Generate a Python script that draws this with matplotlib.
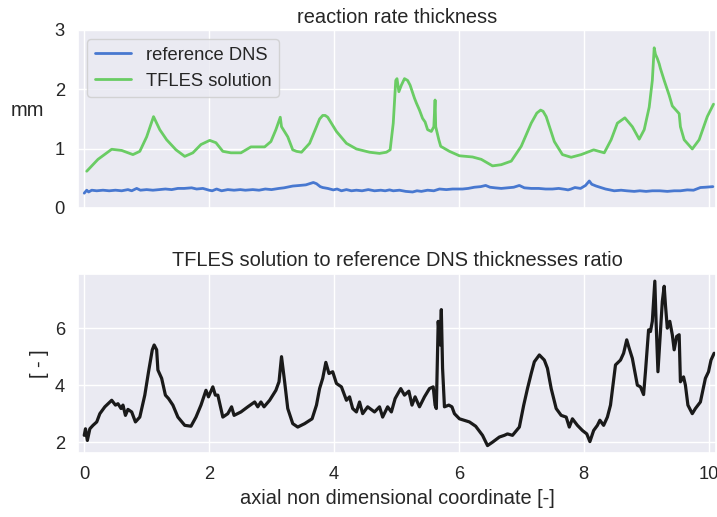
import matplotlib
matplotlib.use("Agg")
import matplotlib.pyplot as plt
import seaborn as sns

# ---- data ----
x_dns = [0.00, 0.04, 0.07, 0.12, 0.2, 0.3, 0.4, 0.5, 0.6, 0.7, 0.76, 0.84, 0.9, 1.0, 1.1, 1.2, 1.3, 1.4,
         1.5, 1.6, 1.72, 1.8, 1.9, 2.0, 2.05, 2.12, 2.2, 2.3, 2.4, 2.5, 2.58, 2.7, 2.8, 2.9, 3.0, 3.12,
         3.2, 3.34, 3.45, 3.55, 3.67, 3.72, 3.78, 3.82, 3.9, 3.99, 4.05, 4.12, 4.2, 4.28, 4.36, 4.45,
         4.55, 4.65, 4.75, 4.82, 4.89, 4.95, 5.05, 5.15, 5.26, 5.33, 5.4, 5.5, 5.6, 5.69, 5.8, 5.9,
         6.06, 6.15, 6.25, 6.35, 6.43, 6.5, 6.58, 6.68, 6.78, 6.88, 6.97, 7.05, 7.16, 7.28, 7.39, 7.5,
         7.6, 7.7, 7.75, 7.8, 7.86, 7.95, 8.03, 8.09, 8.13, 8.2, 8.26, 8.35, 8.49, 8.6, 8.69, 8.81,
         8.9, 9.0, 9.1, 9.22, 9.34, 9.45, 9.55, 9.66, 9.76, 9.87, 9.95, 10.07]
y_dns = [0.25, 0.30, 0.27, 0.30, 0.29, 0.30, 0.29, 0.30, 0.29, 0.31, 0.29, 0.33, 0.30, 0.31, 0.30, 0.31, 0.32, 0.31,
         0.33, 0.33, 0.34, 0.32, 0.33, 0.30, 0.29, 0.32, 0.29, 0.31, 0.30, 0.31, 0.30, 0.31, 0.30, 0.32, 0.31, 0.33,
         0.34, 0.37, 0.38, 0.39, 0.43, 0.41, 0.36, 0.345, 0.33, 0.305, 0.32, 0.29, 0.31, 0.29, 0.30, 0.29,
         0.31, 0.29, 0.30, 0.29, 0.305, 0.29, 0.30, 0.28, 0.27, 0.29, 0.28, 0.30, 0.29, 0.32, 0.31, 0.32,
         0.32, 0.33, 0.35, 0.36, 0.38, 0.35, 0.34, 0.33, 0.34, 0.35, 0.38, 0.34, 0.33, 0.33, 0.32, 0.32,
         0.33, 0.315, 0.305, 0.32, 0.345, 0.33, 0.38, 0.455, 0.40, 0.37, 0.35, 0.32, 0.29, 0.30, 0.29, 0.28,
         0.29, 0.28, 0.29, 0.29, 0.28, 0.29, 0.29, 0.305, 0.30, 0.345, 0.35, 0.36]

x_tfles = [0.04, 0.22, 0.44, 0.6, 0.78, 0.89, 1.0, 1.11, 1.21, 1.32, 1.47, 1.61, 1.74, 1.87, 2.01, 2.11,
           2.22, 2.35, 2.51, 2.67, 2.89, 2.99, 3.07, 3.14, 3.16, 3.26, 3.34, 3.40, 3.48, 3.61, 3.72, 3.77,
           3.82, 3.86, 3.90, 4.04, 4.20, 4.36, 4.57, 4.73, 4.84, 4.90, 4.95, 4.99, 5.01, 5.04, 5.08, 5.13,
           5.18, 5.22, 5.29, 5.32, 5.37, 5.42, 5.46, 5.50, 5.56, 5.60, 5.62, 5.63, 5.68, 5.71, 5.85, 6.01,
           6.22, 6.36, 6.54, 6.68, 6.84, 7.00, 7.16, 7.25, 7.31, 7.35, 7.40, 7.53, 7.66, 7.80, 7.96, 8.16,
           8.33, 8.44, 8.54, 8.66, 8.78, 8.89, 8.97, 9.05, 9.10, 9.13, 9.15, 9.18, 9.21, 9.23, 9.29, 9.37,
           9.42, 9.53, 9.55, 9.61, 9.74, 9.85, 9.98, 10.08]
y_tfles = [0.62, 0.82, 0.99, 0.97, 0.90, 0.955, 1.2, 1.54, 1.32, 1.15, 0.98, 0.87, 0.93, 1.07, 1.14, 1.10,
           0.955, 0.93, 0.93, 1.03, 1.03, 1.12, 1.32, 1.53, 1.37, 1.2, 0.98, 0.955, 0.94, 1.09, 1.37, 1.50,
           1.56, 1.56, 1.53, 1.29, 1.09, 0.995, 0.94, 0.92, 0.94, 0.98, 1.43, 2.15, 2.18, 1.96, 2.07, 2.18,
           2.15, 2.07, 1.85, 1.77, 1.65, 1.51, 1.45, 1.32, 1.29, 1.37, 1.82, 1.37, 1.15, 1.04, 0.955, 0.88,
           0.86, 0.82, 0.71, 0.73, 0.79, 1.04, 1.43, 1.60, 1.65, 1.63, 1.54, 1.12, 0.90, 0.855, 0.90, 0.98,
           0.93, 1.15, 1.43, 1.52, 1.37, 1.16, 1.32, 1.70, 2.15, 2.70, 2.59, 2.52, 2.43, 2.35, 2.15, 1.90,
           1.72, 1.59, 1.37, 1.15, 0.995, 1.15, 1.54, 1.75]

x_ratio = [0.0, 0.02, 0.05, 0.09, 0.14, 0.2, 0.25, 0.33, 0.44, 0.5,
           0.54, 0.59, 0.62, 0.66, 0.70, 0.76, 0.82, 0.89, 0.97, 1.03,
           1.09, 1.12, 1.16, 1.18, 1.24, 1.30, 1.35, 1.42, 1.50, 1.61,
           1.71, 1.79, 1.87, 1.95, 1.99, 2.06, 2.10, 2.14, 2.22, 2.30,
           2.36, 2.40, 2.51, 2.62, 2.73, 2.78, 2.83, 2.88, 2.97, 3.07,
           3.12, 3.16, 3.21, 3.26, 3.34, 3.42, 3.53, 3.65, 3.72, 3.77,
           3.82, 3.87, 3.92, 3.98, 4.04, 4.12, 4.20, 4.25, 4.30, 4.36,
           4.41, 4.46, 4.54, 4.65, 4.73, 4.78, 4.86, 4.92, 4.98, 5.07,
           5.13, 5.20, 5.25, 5.30, 5.37, 5.45, 5.53, 5.59, 5.62, 5.64,
           5.67, 5.70, 5.72, 5.74, 5.77, 5.84, 5.89, 5.93, 6.01, 6.17,
           6.27, 6.38, 6.46, 6.54, 6.65, 6.73, 6.78, 6.86, 6.97, 7.04,
           7.10, 7.16, 7.21, 7.29, 7.37, 7.42, 7.48, 7.56, 7.64, 7.72,
           7.77, 7.82, 7.90, 7.98, 8.05, 8.10, 8.16, 8.22, 8.26, 8.32,
           8.38, 8.43, 8.51, 8.59, 8.64, 8.69, 8.73, 8.78, 8.86, 8.91,
           8.96, 8.99, 9.04, 9.07, 9.10, 9.14, 9.16, 9.19, 9.23, 9.26,
           9.29, 9.31, 9.34, 9.38, 9.42, 9.45, 9.49, 9.53, 9.55, 9.60,
           9.63, 9.67, 9.74, 9.79, 9.87, 9.95, 10.0, 10.04, 10.09]
y_ratio = [2.24, 2.47, 2.06, 2.47, 2.59, 2.71, 3.0, 3.24, 3.47, 3.30,
           3.35, 3.18, 3.30, 2.94, 3.15, 3.06, 2.71, 2.88, 3.65, 4.47,
           5.24, 5.41, 5.24, 4.53, 4.24, 3.65, 3.53, 3.30, 2.88, 2.59,
           2.56, 2.88, 3.30, 3.82, 3.59, 3.94, 3.65, 3.65, 2.88, 3.0,
           3.24, 2.94, 3.06, 3.24, 3.41, 3.24, 3.41, 3.24, 3.47, 3.82,
           4.12, 5.0, 4.12, 3.18, 2.65, 2.53, 2.65, 2.82, 3.30, 3.88,
           4.24, 4.80, 4.41, 4.47, 4.06, 3.94, 3.47, 3.59, 3.18, 3.06,
           3.41, 3.0, 3.24, 3.06, 3.24, 2.88, 3.24, 3.06, 3.53, 3.88,
           3.65, 3.79, 3.30, 3.59, 3.24, 3.59, 3.88, 3.94, 3.30, 3.18,
           6.24, 5.41, 6.65, 4.59, 3.24, 3.30, 3.24, 3.0, 2.82, 2.71,
           2.56, 2.24, 1.88, 2.0, 2.18, 2.24, 2.29, 2.24, 2.53, 3.30,
           3.88, 4.41, 4.82, 5.06, 4.88, 4.59, 3.88, 3.18, 2.94, 2.88,
           2.53, 2.82, 2.59, 2.41, 2.29, 2.02, 2.41, 2.59, 2.77, 2.59,
           2.88, 3.30, 4.71, 4.88, 5.12, 5.59, 5.29, 4.94, 4.0, 3.94,
           3.67, 4.47, 5.94, 5.88, 6.24, 7.65, 6.24, 4.47, 5.88, 6.94,
           7.47, 6.82, 6.0, 6.24, 5.77, 5.24, 5.71, 5.77, 4.12, 4.29,
           4.0, 3.30, 3.0, 3.18, 3.41, 4.24, 4.47, 4.88, 5.12]

labels = ["reference DNS", "TFLES solution"]
title_top = "reaction rate thickness"
title_bottom = "TFLES solution to reference DNS thicknesses ratio"
xlabel = "axial non dimensional coordinate [-]"

# ---- style ----
sns.set_theme(style="darkgrid", palette="muted", font_scale=1.2)
plt.rcParams["font.family"] = ["Liberation Sans", "DejaVu Sans"]
pal = sns.color_palette("muted")

W, H = 717, 517
fig = plt.figure(figsize=(W / 100, H / 100), dpi=100)
left, right = 78, 716
ax1 = fig.add_axes([left / W, 1 - 208 / H, (right - left) / W, 178 / H])
ax2 = fig.add_axes([left / W, 1 - 453 / H, (right - left) / W, 179 / H], sharex=ax1)

ax1.plot(x_dns, y_dns, color=pal[0], lw=2.0, label=labels[0])
ax1.plot(x_tfles, y_tfles, color=pal[2], lw=2.0, label=labels[1])
ax1.set_ylim(0, 3)
ax1.set_title(title_top, pad=5)
ax1.set_ylabel("mm", rotation=0, ha="center", va="center")
ax1.yaxis.set_label_coords(-0.08, 0.55)
ax1.legend(loc="upper left")
plt.setp(ax1.get_xticklabels(), visible=False)

ax2.plot(x_ratio, y_ratio, color="#1a1a1a", lw=2.3)
ax2.set_ylim(1.62, 7.9)
ax2.set_yticks([2, 4, 6])
ax2.set_title(title_bottom)
ax2.set_ylabel("[ - ]")
ax2.set_xlabel(xlabel)
ax2.set_xlim(-0.1, 10.12)

fig.savefig("out.png", dpi=100)
